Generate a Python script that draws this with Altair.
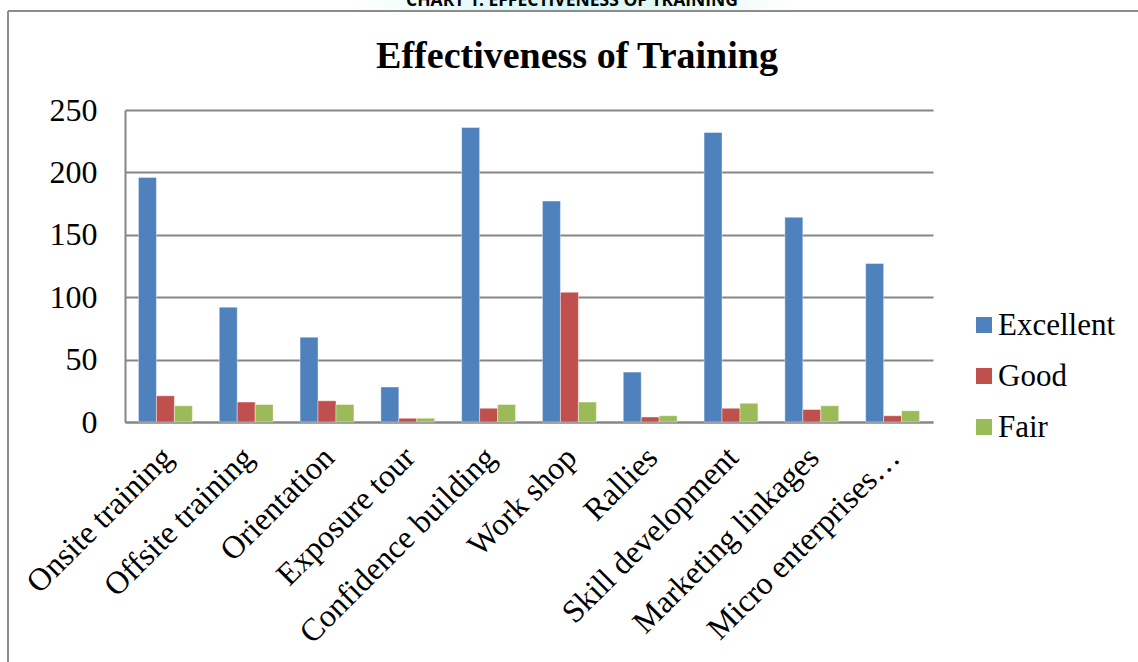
import altair as alt
import pandas as pd

# Training programmes and ratings counts
categories = [
    "Onsite training", "Offsite training", "Orientation", "Exposure tour",
    "Confidence building", "Work shop", "Rallies", "Skill development",
    "Marketing linkages", "Micro enterprises\u2026",
]
excellent = [196, 92, 68, 28, 236, 177, 40, 232, 164, 127]
good = [21, 16, 17, 3, 11, 104, 4, 11, 10, 5]
fair = [13, 14, 14, 3, 14, 16, 5, 15, 13, 9]

ratings = ["Excellent", "Good", "Fair"]
colors = ["#4F81BD", "#C0504D", "#9BBB59"]
y_ticks = [0, 50, 100, 150, 200, 250]

rows = []
for name, series in zip(ratings, [excellent, good, fair]):
    for cat, val in zip(categories, series):
        rows.append({"Category": cat, "Rating": name, "Value": val})
df = pd.DataFrame(rows)
legend_df = pd.DataFrame({"Rating": ratings})

SERIF = "Liberation Serif"
GRID = "#868686"

W, H = 808, 312
PAD = {"left": 125, "top": 110, "right": 1138 - 125 - W, "bottom": 662 - 110 - H}

color_enc = alt.Color(
    "Rating:N", sort=ratings,
    scale=alt.Scale(domain=ratings, range=colors), legend=None,
)

bars = alt.Chart(df).mark_bar(stroke="white", strokeWidth=0.8, strokeOpacity=0.5).encode(
    x=alt.X(
        "Category:N", sort=categories,
        scale=alt.Scale(paddingInner=1 / 3, paddingOuter=1 / 6),
        axis=alt.Axis(
            title=None, labelAngle=-45, labelAlign="right", labelBaseline="middle",
            labelFont=SERIF, labelFontSize=32, labelColor="black",
            labelPadding=30, labelOffset=2,
            labelLimit=0, ticks=False, domainColor=GRID, domainWidth=2,
        ),
    ),
    xOffset=alt.XOffset("Rating:N", sort=ratings),
    y=alt.Y(
        "Value:Q", scale=alt.Scale(domain=[0, 250], nice=False),
        axis=alt.Axis(
            title=None, values=y_ticks, labelFont=SERIF, labelFontSize=32,
            labelColor="black", labelPadding=28, ticks=False,
            domainColor=GRID, domainWidth=2, gridColor=GRID, gridWidth=2,
        ),
    ),
    color=color_enc,
)

# Key on the right: one square and one serif label per rating
key_y = alt.Y("Rating:N", sort=ratings, axis=None,
              scale=alt.Scale(range=[215, 317], padding=0))
key_squares = alt.Chart(legend_df).mark_square(size=256, opacity=1).encode(
    x=alt.value(984 - 125), y=key_y, color=color_enc,
)
key_labels = alt.Chart(legend_df).mark_text(
    font=SERIF, fontSize=31, color="black", align="left", baseline="middle", dy=1,
).encode(x=alt.value(998 - 125), y=key_y, text="Rating:N")
key = alt.layer(key_squares, key_labels)

one = pd.DataFrame({"k": [0]})

glow = alt.Chart(one).mark_rect(
    color=alt.Gradient(
        gradient="linear", x1=0, x2=1, y1=0, y2=0,
        stops=[
            alt.GradientStop(color="#ffffff", offset=0),
            alt.GradientStop(color="#d6f7f7", offset=0.45),
            alt.GradientStop(color="#e4f8f4", offset=0.7),
            alt.GradientStop(color="#ffffff", offset=1),
        ],
    )
).encode(x=alt.value(350 - 125), x2=alt.value(800 - 125), y=alt.value(-110), y2=alt.value(10 - 110))

title = alt.Chart(one).mark_text(
    text="Effectiveness of Training", font=SERIF, fontSize=38, fontWeight="bold",
    color="black", align="center", baseline="alphabetic",
).encode(x=alt.value(452), y=alt.value(-42))

header = alt.Chart(one).mark_text(
    text="CHART 1: EFFECTIVENESS OF TRAINING", font="Open Sans", fontSize=17.5,
    fontWeight="bold", color="black", align="center", baseline="alphabetic",
).encode(x=alt.value(447), y=alt.value(6 - 110))

frame_left = alt.Chart(one).mark_rule(color="#8c8c8c", strokeWidth=2).encode(
    x=alt.value(8 - 125), y=alt.value(11 - 110), y2=alt.value(662 - 110)
)
frame_top = alt.Chart(one).mark_rule(color="#8c8c8c", strokeWidth=2).encode(
    x=alt.value(8 - 125), x2=alt.value(1138 - 125), y=alt.value(11 - 110)
)

chart = alt.layer(glow, frame_left, frame_top, header, title, bars, key).resolve_scale(
    y="independent"
).properties(
    width=W, height=H, padding=PAD,
    autosize=alt.AutoSizeParams(type="none"),
    background="white",
).configure_view(stroke=None)

chart.save("out.html", embed_options={"renderer": "svg", "actions": False})
